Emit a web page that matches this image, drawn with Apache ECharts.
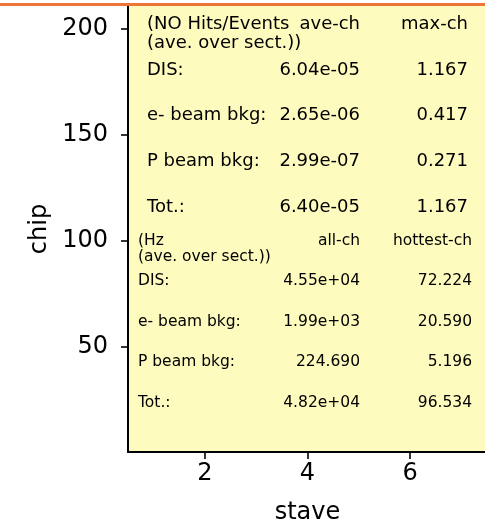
<!DOCTYPE html>
<html>
<head>
<meta charset="utf-8">
<script src="https://cdn.jsdelivr.net/npm/echarts@6/dist/echarts.min.js"></script>
<style>
  html, body { margin: 0; padding: 0; background: #fff; }
  #main { width: 485px; height: 526px; }
</style>
</head>
<body>
<div id="main"></div>
<script>
// axis ticks
let staveTicks = [2, 4, 6];
let chipTicks = [50, 100, 150, 200];

// table: hits per event
let hitsHeader = ['(NO Hits/Events', 'ave-ch', 'max-ch'];
let subHeader = '(ave. over sect.))';
let sources = ['DIS:', 'e- beam bkg:', 'P beam bkg:', 'Tot.:'];
let aveCh = ['6.04e-05', '2.65e-06', '2.99e-07', '6.40e-05'];
let maxCh = ['1.167', '0.417', '0.271', '1.167'];

// table: rates
let rateHeader = ['(Hz', 'all-ch', 'hottest-ch'];
let allCh = ['4.55e+04', '1.99e+03', '224.690', '4.82e+04'];
let hottestCh = ['72.224', '20.590', '5.196', '96.534'];

let myChart = echarts.init(document.getElementById('main'));
let font = 'DejaVu Sans';

function txt(text, x, y, align, size) {
    return {
        type: 'text',
        x: x,
        y: y,
        z: 10,
        style: {
            text: text,
            align: align,
            verticalAlign: 'middle',
            fontFamily: font,
            fontSize: size,
            fill: '#000'
        }
    };
}

// build the two text blocks
function block(header, labels, col1, col2, opt) {
    let els = [
        txt(header[0], opt.left, opt.y0, 'left', opt.size),
        txt(header[1], opt.c1, opt.y0, 'right', opt.size),
        txt(header[2], opt.c2, opt.y0, 'right', opt.size),
        txt(subHeader, opt.left, opt.y1, 'left', opt.size)
    ];
    labels.forEach((item, i) => {
        let y = opt.yRow + i * opt.step;
        els.push(txt(item, opt.left, y, 'left', opt.size));
        els.push(txt(col1[i], opt.c1, y, 'right', opt.size));
        els.push(txt(col2[i], opt.c2, y, 'right', opt.size));
    });
    return els;
}

let graphics = [].concat(
    { type: 'rect', shape: { x: 0, y: 3, width: 485, height: 3 }, style: { fill: '#ee7538' }, z: 20 },
    block(hitsHeader, sources, aveCh, maxCh,
        { left: 147, c1: 360, c2: 468, y0: 24, y1: 43, yRow: 70, step: 45.7, size: 18 }),
    block(rateHeader, sources, allCh, hottestCh,
        { left: 138, c1: 360, c2: 472, y0: 241, y1: 257, yRow: 281, step: 40.7, size: 15.5 })
);

let axisBase = {
    axisLine: { show: true, lineStyle: { color: '#000', width: 2 } },
    axisTick: { show: true, inside: false, length: 7, lineStyle: { color: '#000', width: 1.6 } },
    splitLine: { show: false },
    nameTextStyle: { fontFamily: font, fontSize: 24, color: '#000' }
};

let option = {
    animation: false,
    backgroundColor: '#fff',
    grid: {
        left: 128, right: -2, top: 6, bottom: 74,
        outerBoundsMode: 'none',
        containLabel: false,
        show: true, backgroundColor: '#fefbbf', borderWidth: 0
    },
    xAxis: Object.assign({}, axisBase, {
        type: 'value',
        min: 0.5,
        max: 7.5,
        name: 'stave',
        nameLocation: 'middle',
        nameGap: 49,
        axisTick: Object.assign({}, axisBase.axisTick, { customValues: staveTicks }),
        axisLabel: { customValues: staveTicks, fontFamily: font, fontSize: 24, color: '#000', margin: 10 }
    }),
    yAxis: Object.assign({}, axisBase, {
        type: 'value',
        min: 0.5,
        max: 210.6,
        name: 'chip',
        nameLocation: 'middle',
        nameGap: 72,
        axisTick: Object.assign({}, axisBase.axisTick, { customValues: chipTicks }),
        axisLabel: { customValues: chipTicks, fontFamily: font, fontSize: 24, color: '#000', margin: 20 }
    }),
    graphic: graphics,
    series: []
};

myChart.setOption(option);
</script>
</body>
</html>
